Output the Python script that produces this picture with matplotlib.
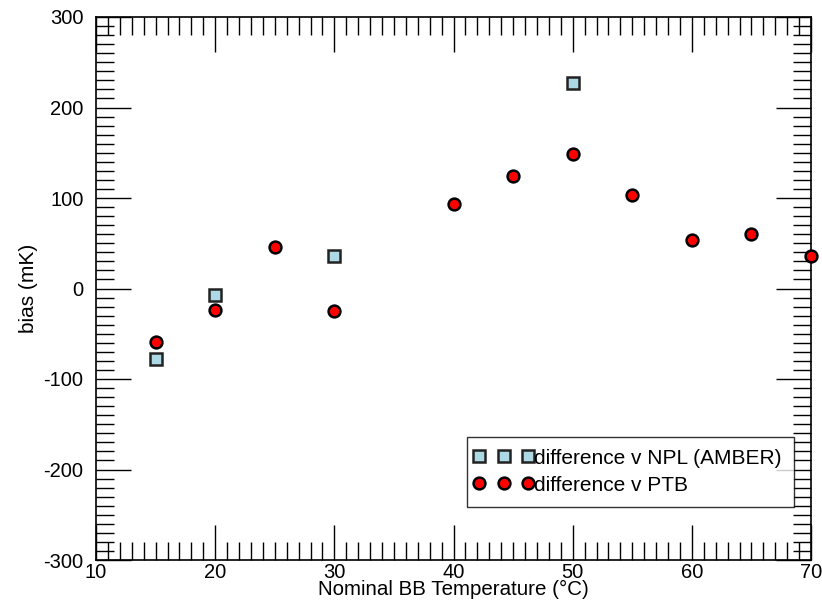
import matplotlib
matplotlib.use("Agg")
import matplotlib.pyplot as plt
from matplotlib.ticker import MultipleLocator
from matplotlib.legend_handler import HandlerLine2D

plt.rcParams['font.family'] = ['Liberation Sans', 'DejaVu Sans']
plt.rcParams['axes.unicode_minus'] = False

npl_x = [15, 20, 30, 50]
npl_y = [-78, -7, 36, 227]
ptb_x = [15, 20, 25, 30, 40, 45, 50, 55, 60, 65, 70]
ptb_y = [-59, -24, 46, -25, 93, 124, 149, 103, 54, 60, 36]

fig = plt.figure(figsize=(8.22, 6.08), dpi=100)
ax = fig.add_axes([96/822, 1-560/608, (811-96)/822, (560-17)/608])

l1, = ax.plot(npl_x, npl_y, linestyle='none', marker='s', markersize=8,
              markerfacecolor='#add8e6', markeredgecolor='#222222', markeredgewidth=1.8,
              label='difference v NPL (AMBER)', clip_on=False, zorder=3)
l2, = ax.plot(ptb_x, ptb_y, linestyle='none', marker='o', markersize=8.5,
              markerfacecolor='#ff0000', markeredgecolor='black', markeredgewidth=1.8,
              label='difference v PTB', clip_on=False, zorder=3)

ax.set_xlim(10, 70)
ax.set_ylim(-300, 300)
ax.xaxis.set_major_locator(MultipleLocator(10))
ax.xaxis.set_minor_locator(MultipleLocator(1))
ax.yaxis.set_major_locator(MultipleLocator(100))
ax.yaxis.set_minor_locator(MultipleLocator(10))
ax.tick_params(which='both', direction='in', top=True, right=True, color='black', width=1)
ax.tick_params(which='major', length=25, labelsize=14.5)
ax.tick_params(axis='x', which='major', pad=2)
ax.tick_params(axis='y', which='major', pad=9)
ax.tick_params(which='minor', length=13)
for s in ax.spines.values():
    s.set_linewidth(1.2)

ax.set_xlabel('Nominal BB Temperature (°C)', fontsize=14.8, labelpad=-1)
ax.set_ylabel('bias (mK)', fontsize=15, labelpad=4)

hm = {l1: HandlerLine2D(marker_pad=0), l2: HandlerLine2D(marker_pad=0)}
leg = ax.legend(handles=[l1, l2], handler_map=hm,
                loc='lower left', bbox_to_anchor=((467-96)/(811-96), (560-507)/(560-17)),
                numpoints=3, handlelength=2.35, handletextpad=0.3, fontsize=15,
                frameon=True, fancybox=False, borderpad=0.58, labelspacing=0.4,
                borderaxespad=0, handleheight=0.75)
leg.get_frame().set_edgecolor('black')
leg.get_frame().set_linewidth(1.0)

fig.savefig('out.png', dpi=100)
